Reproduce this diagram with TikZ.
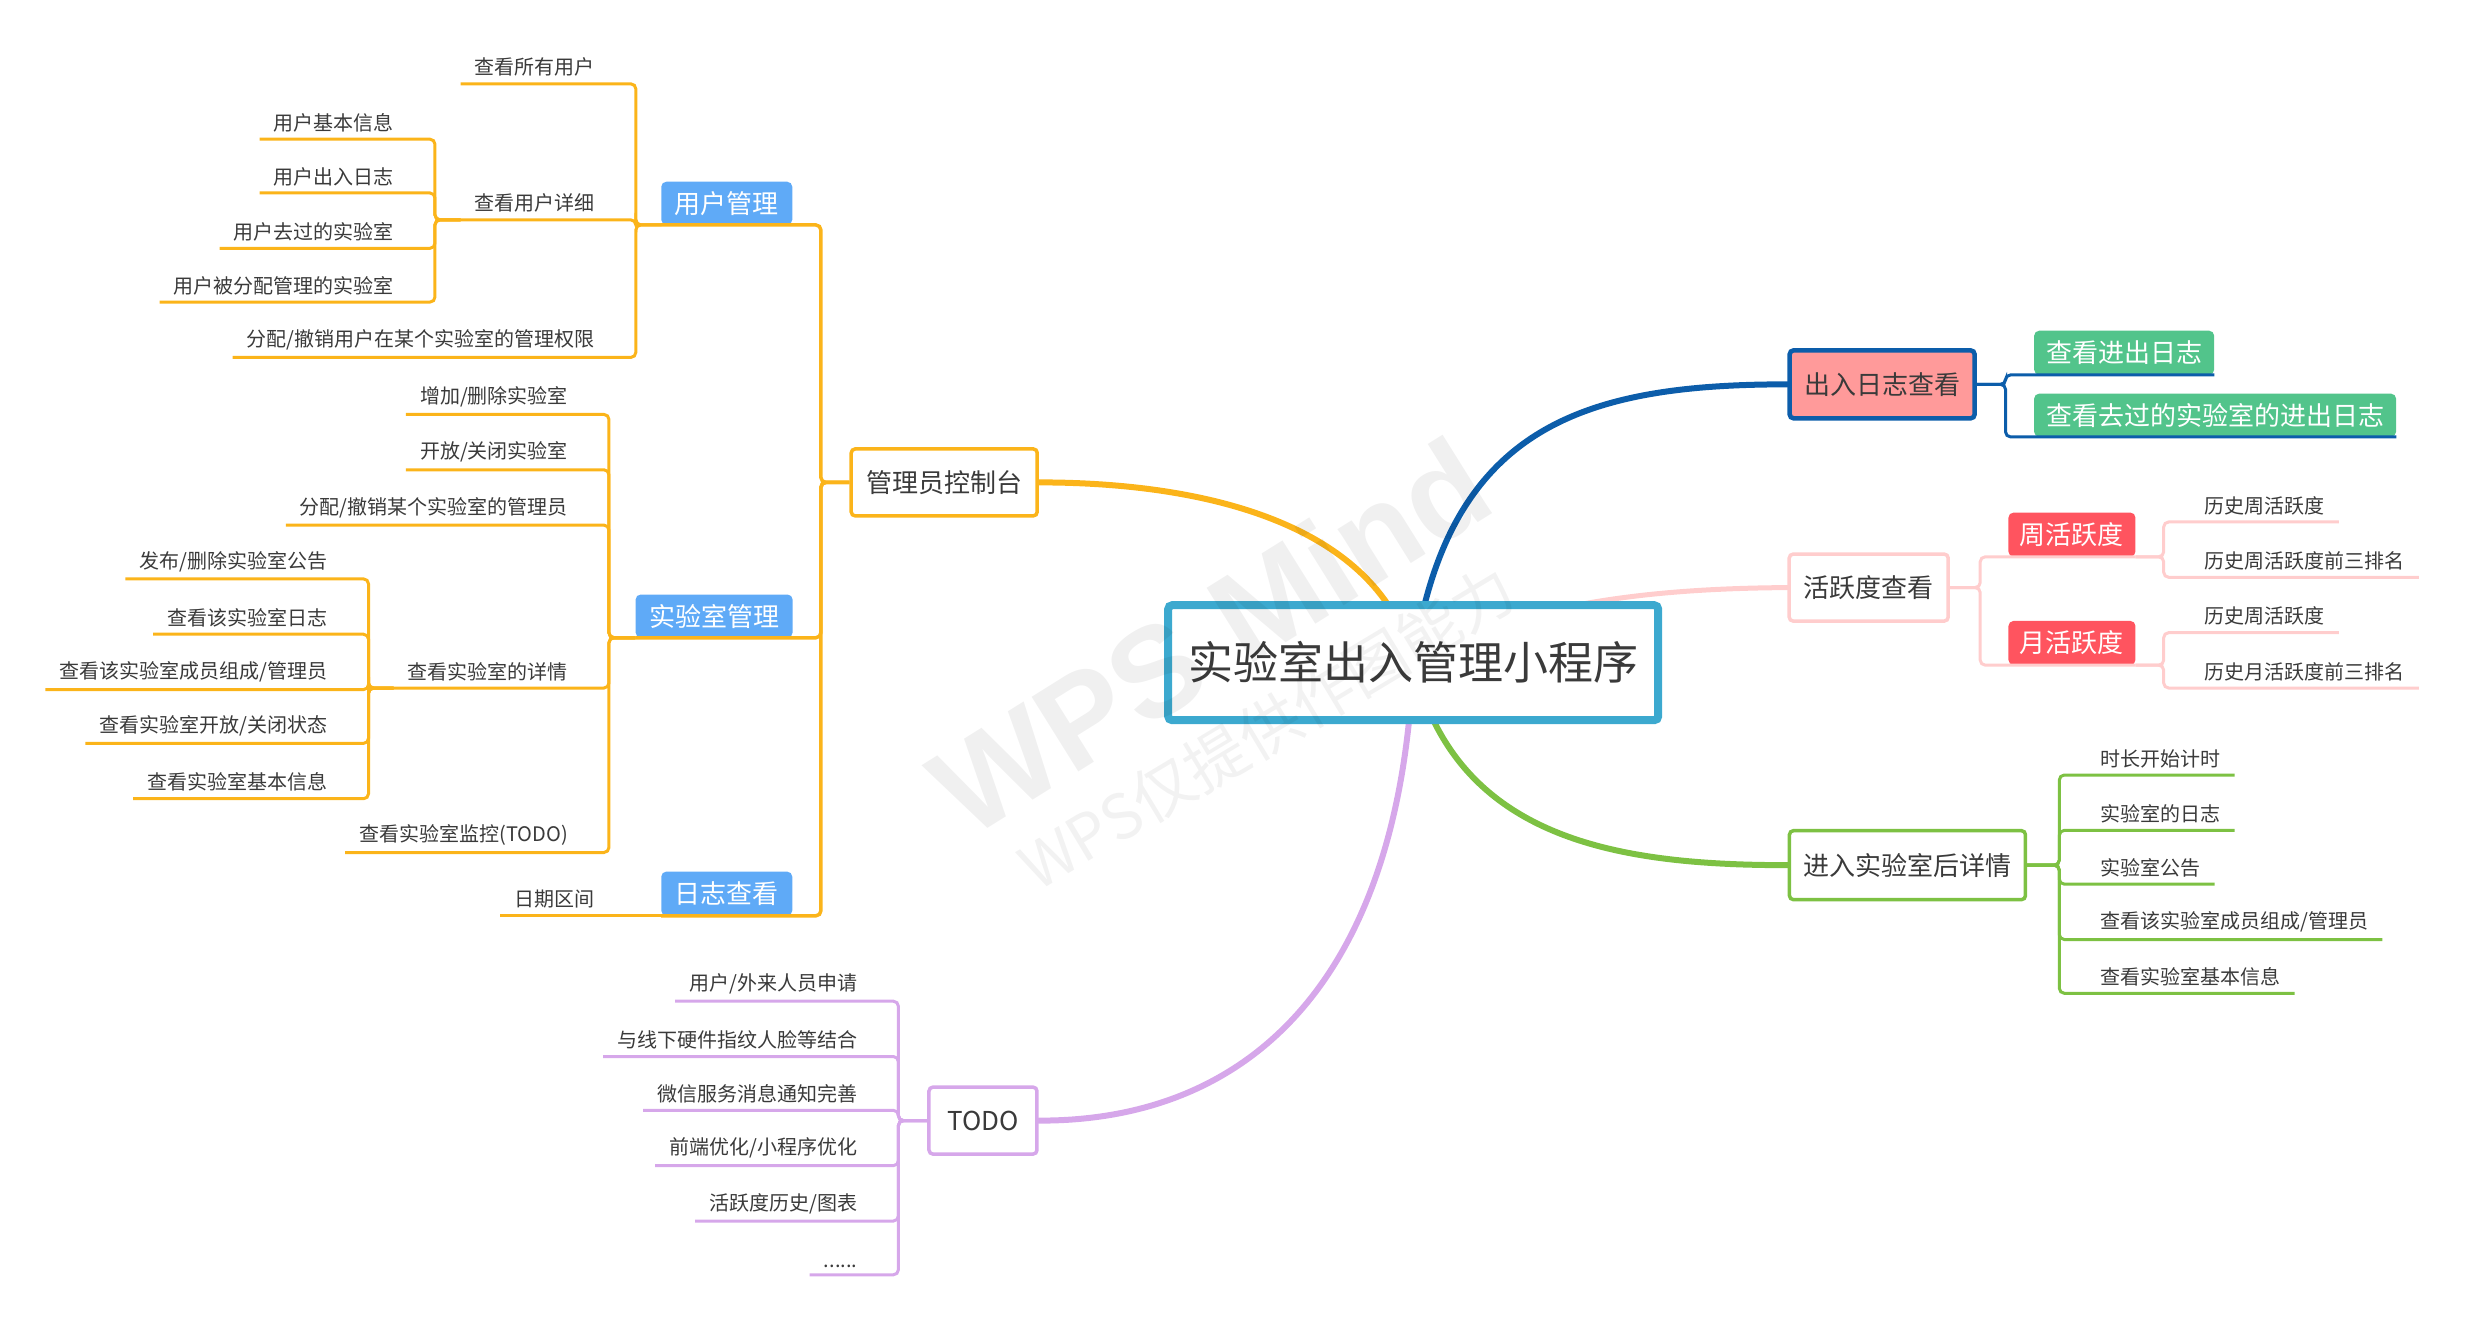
\documentclass[tikz,border=0pt]{standalone}
\usepackage{fontspec}
\setmainfont{Noto Sans CJK SC}
\newfontfamily\wmlatin{Liberation Sans}
\usepackage{tikz}
\usetikzlibrary{positioning,backgrounds,calc}

\definecolor{ink}{HTML}{3A3A3A}
\definecolor{amber}{HTML}{FBB41A}
\definecolor{navy}{HTML}{0C5DAA}
\definecolor{blush}{HTML}{FFCDCD}
\definecolor{leafgreen}{HTML}{7DC143}
\definecolor{lilac}{HTML}{D6A7EA}
\definecolor{sky}{HTML}{5FAAF7}
\definecolor{cyanframe}{HTML}{3CA9CF}
\definecolor{mint}{HTML}{52C48B}
\definecolor{salmon}{HTML}{FF9A9A}
\definecolor{coral}{HTML}{FF545F}

\newcommand{\leafsize}{\fontsize{20pt}{24pt}\selectfont}
\newcommand{\tagsize}{\fontsize{26pt}{31pt}\selectfont}
\newcommand{\rootsize}{\fontsize{45pt}{54pt}\selectfont}

\begin{document}
\begin{tikzpicture}[
    x=1.5816pt, y=-1.5816pt,
    leaf/.style={font=\leafsize, text=ink, inner xsep=14pt, inner ysep=7pt},
    leafl/.style={leaf, anchor=south east},
    leafr/.style={leaf, anchor=south west},
    tag/.style={rounded corners=5pt, font=\tagsize, text=white, minimum height=43pt, inner sep=0pt},
    topic/.style={fill=white, line width=3.5pt, rounded corners=4pt, font=\tagsize, text=ink, minimum height=67pt, inner sep=0pt},
    root/.style={draw=cyanframe, fill=white, line width=8pt, rounded corners=4pt, minimum width=490pt, minimum height=115pt, font=\rootsize, text=ink},
    twig/.style={line width=3pt, rounded corners=5pt},
    trunk/.style={line width=6pt, line cap=round}
]
\useasboundingbox (0,0) rectangle (1568,842);

% Root
\node[root] (cen) at (893.5,419) {实验室出入管理小程序};

% Admin side
\node[topic, draw=amber, minimum width=186pt] (ctrl) at (597,305) {管理员控制台};
\node[tag, fill=sky, minimum width=131pt] (usr) at (459.5,128.5) {用户管理};
\node[tag, fill=sky, minimum width=157pt] (labm) at (451.5,389.5) {实验室管理};
\node[tag, fill=sky, minimum width=131pt, minimum height=44pt] (logv) at (459.5,565) {日志查看};

% Buses
\coordinate (cbus) at (519,0);
\coordinate (ubus) at (402,0);
\coordinate (dbus) at (275,0);
\coordinate (lbus) at (385,0);
\coordinate (ebus) at (233,0);
\coordinate (tbus) at (568,0);
\coordinate (lgbus) at (1268,0);
\coordinate (abus) at (1252,0);
\coordinate (wbus) at (1368,0);
\coordinate (nbus) at (1302,0);

% User management
\node[leafl] (u1) at (385,53) {查看所有用户};
\node[leafl] (u2) at (385,139) {查看用户详细};
\node[leafl] (u3) at (385,226) {分配/撤销用户在某个实验室的管理权限};
\node[leafl] (d1) at (258,88) {用户基本信息};
\node[leafl] (d2) at (258,122) {用户出入日志};
\node[leafl] (d3) at (258,157) {用户去过的实验室};
\node[leafl] (d4) at (258,191) {用户被分配管理的实验室};

% Lab management
\node[leafl] (l1) at (368,262) {增加/删除实验室};
\node[leafl] (l2) at (368,297) {开放/关闭实验室};
\node[leafl] (l3) at (368,332) {分配/撤销某个实验室的管理员};
\node[leafl] (l4) at (368,435) {查看实验室的详情};
\node[leafl] (l5) at (368,539) {查看实验室监控(TODO)};
\node[leafl] (e1) at (216,366) {发布/删除实验室公告};
\node[leafl] (e2) at (216,401) {查看该实验室日志};
\node[leafl] (e3) at (216,436) {查看该实验室成员组成/管理员};
\node[leafl] (e4) at (216,470) {查看实验室开放/关闭状态};
\node[leafl] (e5) at (216,505) {查看实验室基本信息};

% Log view
\node[leafl] (g1) at ($(logv.south west)+(-33,0)$) {日期区间};

% TODO
\node[topic, draw=lilac, minimum width=108pt] (todo) at (621.5,708.5) {TODO};
\node[leafl] (t1) at (551,633) {用户/外来人员申请};
\node[leafl] (t2) at (551,668) {与线下硬件指纹人脸等结合};
\node[leafl] (t3) at (551,702) {微信服务消息通知完善};
\node[leafl] (t4) at (551,737) {前端优化/小程序优化};
\node[leafl] (t5) at (551,772) {活跃度历史/图表};
\node[leafl] (t6) at (551,806) {......};

% Access log
\node[topic, draw=navy, fill=salmon, line width=4.5pt, minimum width=185pt, minimum height=68pt] (lg) at (1190,243) {出入日志查看};
\node[tag, fill=mint, minimum width=180pt, minimum height=44pt] (lg1) at (1343,223) {查看进出日志};
\node[tag, fill=mint, minimum width=362pt] (lg2) at (1400.5,262.5) {查看去过的实验室的进出日志};

% Activity
\node[topic, draw=blush, minimum width=159pt] (act) at (1181.5,371.5) {活跃度查看};
\node[tag, fill=coral, minimum width=127pt, minimum height=44pt] (wk) at (1310,338) {周活跃度};
\node[tag, fill=coral, minimum width=127pt, minimum height=44pt] (mo) at (1310,406.5) {月活跃度};
\node[leafr] (w1) at (1385,330) {历史周活跃度};
\node[leafr] (w2) at (1385,365) {历史周活跃度前三排名};
\node[leafr] (m1) at (1385,400) {历史周活跃度};
\node[leafr] (m2) at (1385,435) {历史月活跃度前三排名};

% Inside the lab
\node[topic, draw=leafgreen, minimum width=236pt, minimum height=69pt] (ent) at (1206,547) {进入实验室后详情};
\node[leafr] (n1) at (1319,490) {时长开始计时};
\node[leafr] (n2) at (1319,525) {实验室的日志};
\node[leafr] (n3) at (1319,559) {实验室公告};
\node[leafr] (n4) at (1319,594) {查看该实验室成员组成/管理员};
\node[leafr] (n5) at (1319,628) {查看实验室基本信息};

% Main branches
\begin{scope}[on background layer]
\draw[trunk, amber] (cen.center) .. controls (875,340) and (780,305) .. (ctrl.east);
\draw[trunk, navy] (cen.center) .. controls (915,270) and (1000,243) .. (lg.west);
\draw[trunk, blush, line width=5pt] (cen.center) .. controls (960,380) and (1050,372) .. (act.west);
\draw[trunk, leafgreen] (cen.center) .. controls (920,530) and (1020,547) .. (ent.west);
\draw[trunk, lilac] (cen.center) .. controls (885,620) and (790,709) .. (todo.east);
\end{scope}

% Admin connectors
\draw[twig, amber, line width=3.5pt] (ctrl.west) -- (ctrl.west -| cbus) |- (usr.south west);
\draw[twig, amber, line width=3.5pt] (ctrl.west) -- (ctrl.west -| cbus) |- (labm.south west);
\draw[twig, amber, line width=3.5pt] (ctrl.west) -- (ctrl.west -| cbus) |- (logv.south west);

\draw[twig, amber] (u1.south west) -- (u1.south -| ubus) |- (usr.south west);
\draw[twig, amber] (u2.south west) -- (u2.south -| ubus) |- (usr.south west);
\draw[twig, amber] (u3.south west) -- (u3.south -| ubus) |- (usr.south west);
\draw[twig, amber] (d1.south west) -- (d1.south -| dbus) |- (u2.south west);
\draw[twig, amber] (d2.south west) -- (d2.south -| dbus) |- (u2.south west);
\draw[twig, amber] (d3.south west) -- (d3.south -| dbus) |- (u2.south west);
\draw[twig, amber] (d4.south west) -- (d4.south -| dbus) |- (u2.south west);

\draw[twig, amber] (l1.south west) -- (l1.south -| lbus) |- (labm.south west);
\draw[twig, amber] (l2.south west) -- (l2.south -| lbus) |- (labm.south west);
\draw[twig, amber] (l3.south west) -- (l3.south -| lbus) |- (labm.south west);
\draw[twig, amber] (l4.south west) -- (l4.south -| lbus) |- (labm.south west);
\draw[twig, amber] (l5.south west) -- (l5.south -| lbus) |- (labm.south west);
\draw[twig, amber] (e1.south west) -- (e1.south -| ebus) |- (l4.south west);
\draw[twig, amber] (e2.south west) -- (e2.south -| ebus) |- (l4.south west);
\draw[twig, amber] (e3.south west) -- (e3.south -| ebus) |- (l4.south west);
\draw[twig, amber] (e4.south west) -- (e4.south -| ebus) |- (l4.south west);
\draw[twig, amber] (e5.south west) -- (e5.south -| ebus) |- (l4.south west);

\draw[twig, amber] (g1.south west) -- (logv.south west);

% TODO connectors
\draw[twig, lilac] (t1.south west) -- (t1.south -| tbus) |- (todo.west);
\draw[twig, lilac] (t2.south west) -- (t2.south -| tbus) |- (todo.west);
\draw[twig, lilac] (t3.south west) -- (t3.south -| tbus) |- (todo.west);
\draw[twig, lilac] (t4.south west) -- (t4.south -| tbus) |- (todo.west);
\draw[twig, lilac] (t5.south west) -- (t5.south -| tbus) |- (todo.west);
\draw[twig, lilac] (t6.south west) -- (t6.south -| tbus) |- (todo.west);

% Right side connectors
\draw[twig, navy] (lg.east) -- (lg.east -| lgbus) |- (lg1.south east);
\draw[twig, navy] (lg.east) -- (lg.east -| lgbus) |- (lg2.south east);

\draw[twig, blush] (act.east) -- (act.east -| abus) |- (wk.south east);
\draw[twig, blush] (act.east) -- (act.east -| abus) |- (mo.south east);
\draw[twig, blush] (w1.south east) -- (w1.south -| wbus) |- (wk.south east);
\draw[twig, blush] (w2.south east) -- (w2.south -| wbus) |- (wk.south east);
\draw[twig, blush] (m1.south east) -- (m1.south -| wbus) |- (mo.south east);
\draw[twig, blush] (m2.south east) -- (m2.south -| wbus) |- (mo.south east);

\draw[twig, leafgreen] (n1.south east) -- (n1.south -| nbus) |- (ent.east);
\draw[twig, leafgreen] (n2.south east) -- (n2.south -| nbus) |- (ent.east);
\draw[twig, leafgreen] (n3.south east) -- (n3.south -| nbus) |- (ent.east);
\draw[twig, leafgreen] (n4.south east) -- (n4.south -| nbus) |- (ent.east);
\draw[twig, leafgreen] (n5.south east) -- (n5.south -| nbus) |- (ent.east);

% Watermark
\node[rotate=32, opacity=0.06, font=\wmlatin\bfseries\fontsize{128pt}{128pt}\selectfont] (wm1) at (765,402) {WPS Mind};
\node[rotate=31, opacity=0.05, font=\fontsize{62pt}{62pt}\selectfont] (wm2) at (801,460) {WPS仅提供作图能力};

\end{tikzpicture}
\end{document}
